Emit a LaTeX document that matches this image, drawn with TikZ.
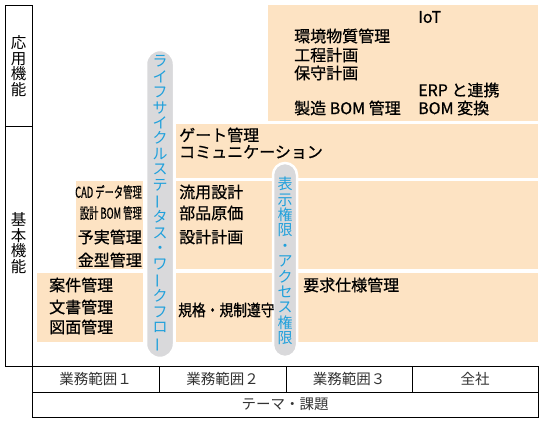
\documentclass[tikz,border=0pt]{standalone}
\usepackage{fontspec}
\usepackage{graphicx}
\setmainfont{Noto Sans CJK JP}
\newfontfamily\jpm{Noto Sans CJK JP}[FakeBold=0.7]
\definecolor{peach}{HTML}{FDE3C3}
\definecolor{pillgray}{HTML}{D9D9DB}
\definecolor{pillblue}{HTML}{1FA0DC}
\newcommand\tatebo{\rotatebox[origin=c]{90}{ー}}
\tikzset{
  frame/.style={draw=black, line width=0.8pt},
  block/.style={fill=peach},
  pill/.style={draw=white, line width=2.5pt, fill=pillgray},
  item/.style={anchor=west, inner sep=0pt, font=\jpm\fontsize{16}{16}\selectfont},
  itemr/.style={anchor=east, inner sep=0pt, font=\jpm\fontsize{15}{15}\selectfont},
  vtext/.style={inner sep=0pt, align=center, text=pillblue, font=\fontsize{15}{15.4}\selectfont},
  side/.style={inner sep=0pt, align=center, font=\fontsize{15.5}{15.6}\selectfont},
  cell/.style={inner sep=0pt, text=black!80, font=\fontsize{14.5}{14.5}\selectfont}
}
\begin{document}
\begin{tikzpicture}[x=1pt, y=-1pt]
\useasboundingbox (0,0) rectangle (543,423);
% blocks
\fill[block] (268,5) rectangle (538,121);
\fill[block] (176,124) rectangle (538,178);
\fill[block] (176,181) rectangle (538,269);
\fill[block] (76,181) rectangle (143,269);
\fill[block] (37,273) rectangle (143,342);
\fill[block] (176,273) rectangle (538,342);
% pills
\draw[pill, rounded corners=14pt] (146,50) rectangle (174,358);
\draw[pill, rounded corners=12pt] (273,163) rectangle (297,357);
\node[vtext] (lifecycle) at (160,204) {ラ\\イ\\フ\\サ\\イ\\ク\\ル\\ス\\テ\\\tatebo\\タ\\ス\\・\\ワ\\\tatebo\\ク\\フ\\ロ\\\tatebo};
\node[vtext] (access) at (285,261) {表\\示\\権\\限\\・\\ア\\ク\\セ\\ス\\権\\限};
% frame left
\draw[frame] (5,5) rectangle (32,366);
\draw[frame] (5,126) -- (32,126);
\node[side] (ouyou) at (18.5,66) {応\\用\\機\\能};
\node[side] (kihon) at (18.5,243) {基\\本\\機\\能};
% bottom table
\draw[frame] (32,366) rectangle (538,417);
\draw[frame] (32,392) -- (538,392);
\draw[frame] (159,366) -- (159,392);
\draw[frame] (286,366) -- (286,392);
\draw[frame] (412,366) -- (412,392);
\node[cell] (g1) at (95.5,379) {業務範囲１};
\node[cell] (g2) at (222.5,379) {業務範囲２};
\node[cell] (g3) at (349,379) {業務範囲３};
\node[cell] (zensha) at (475,379) {全社};
\node[cell] (theme) at (285,404.5) {テーマ・課題};
% application items
\node[item] (iot) at (418,17) {IoT};
\node[item] (kankyo) at (294,36) {環境物質管理};
\node[item] (koutei) at (294,55) {工程計画};
\node[item] (hoshu) at (294,73) {保守計画};
\node[item] (erp) at (418,90) {ERP と連携};
\node[item] (seizo) at (294,108) {製造 BOM 管理};
\node[item] (bomhen) at (418,108) {BOM 変換};
% basic items
\node[item] (gate) at (179,135) {ゲート管理};
\node[item] (comm) at (179,152) {コミュニケーション};
\node[item] (ryuyo) at (179,192) {流用設計};
\node[item] (buhin) at (179,213) {部品原価};
\node[item] (sekkei) at (179,237) {設計計画};
\node[item] (kikaku) at (178,310) {\scalebox{0.86}[1]{規格・規制遵守}};
\node[item] (youkyu) at (303,285) {要求仕様管理};
\node[item] (anken) at (49,285) {案件管理};
\node[item] (bunsho) at (49,307) {文書管理};
\node[item] (zumen) at (49,327) {図面管理};
\node[itemr] (cad) at (142,192) {\scalebox{0.62}[1]{CAD データ管理}};
\node[itemr] (sbom) at (142,213) {\scalebox{0.62}[1]{設計 BOM 管理}};
\node[itemr, font=\jpm\fontsize{16}{16}\selectfont] (yojitsu) at (142,237) {予実管理};
\node[itemr, font=\jpm\fontsize{16}{16}\selectfont] (kanagata) at (142,260) {金型管理};
\end{tikzpicture}
\end{document}
